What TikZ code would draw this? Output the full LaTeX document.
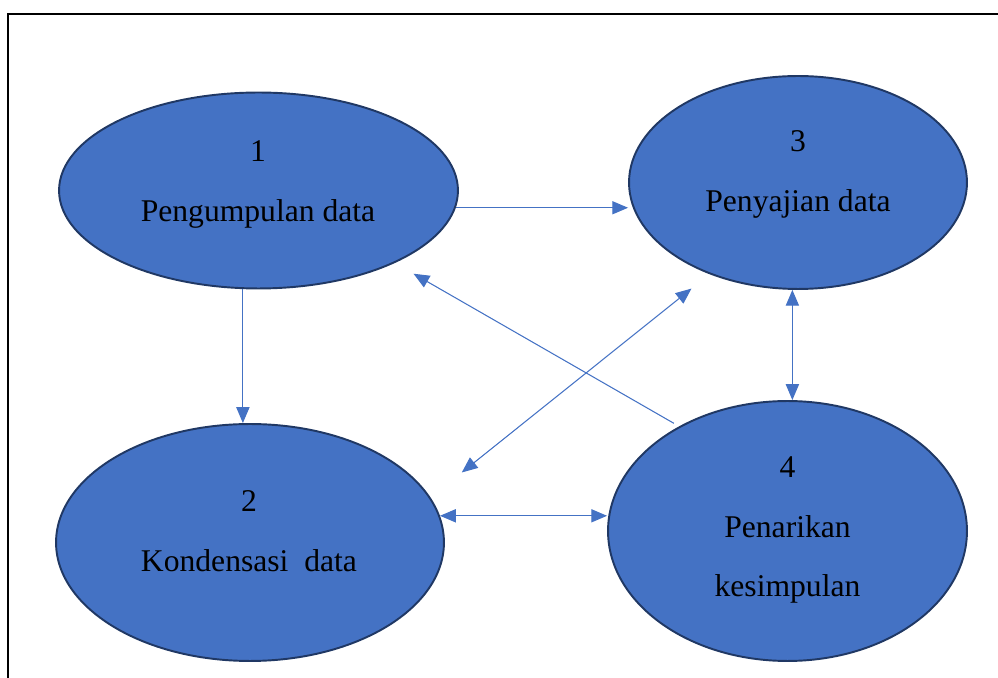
\documentclass[tikz,border=0pt]{standalone}
\usepackage{fontspec}
\setmainfont{Liberation Serif}
\usetikzlibrary{arrows.meta,shapes.geometric}
\definecolor{procblue}{HTML}{4472C4}
\definecolor{procedge}{HTML}{203864}

\begin{document}
\begin{tikzpicture}[x=0.02cm,y=-0.02cm,>={Triangle[length=9pt,width=7.5pt]},
  proc/.style={ellipse,draw=procedge,line width=1.1pt,fill=procblue,inner sep=0pt},
  lbl/.style={align=center,font=\fontsize{18}{34}\selectfont},
  conn/.style={draw=procblue,line width=0.6pt}]
  \useasboundingbox (0,0) rectangle (998,678);
  \draw[line width=1.1pt] (998,14) -- (8,14) -- (8,678);
  \node[proc,minimum width=7.98cm,minimum height=3.92cm] (E1) at (258.5,190.5) {};
  \node[proc,minimum width=6.76cm,minimum height=4.26cm] (E3) at (798,182.5) {};
  \node[proc,minimum width=7.76cm,minimum height=4.74cm] (E2) at (250,542.5) {};
  \node[proc,minimum width=7.18cm,minimum height=5.2cm] (E4) at (787.5,531) {};
  \node[lbl] (L1) at (258,184.3) {1\\Pengumpulan data};
  \node[lbl] (L3) at (798,174.3) {3\\Penyajian data};
  \node[lbl] (L2) at (249,531) {2\\Kondensasi~~data};
  \node[lbl] (L4) at (787.5,530) {4\\Penarikan\\kesimpulan};
  \draw[conn,->] (E1.355.2) -- (E1.355.2 -| E3.west);
  \draw[conn,->] (E1.261) -- (E1.261 |- E2.north);
  \draw[conn,->,shorten <=0.12cm,shorten >=0.43cm] (E4.136.5) -- (E1.332.95);
  \draw[conn,<->,shorten <=0.46cm,shorten >=0.8cm] (E3.226.5) -- (E2.14.35);
  \draw[conn,<->] (E3.267.5) -- (E3.267.5 |- E4.north);
  \draw[conn,<->] (E2.8) -- (E2.8 -| E4.west);
\end{tikzpicture}
\end{document}
